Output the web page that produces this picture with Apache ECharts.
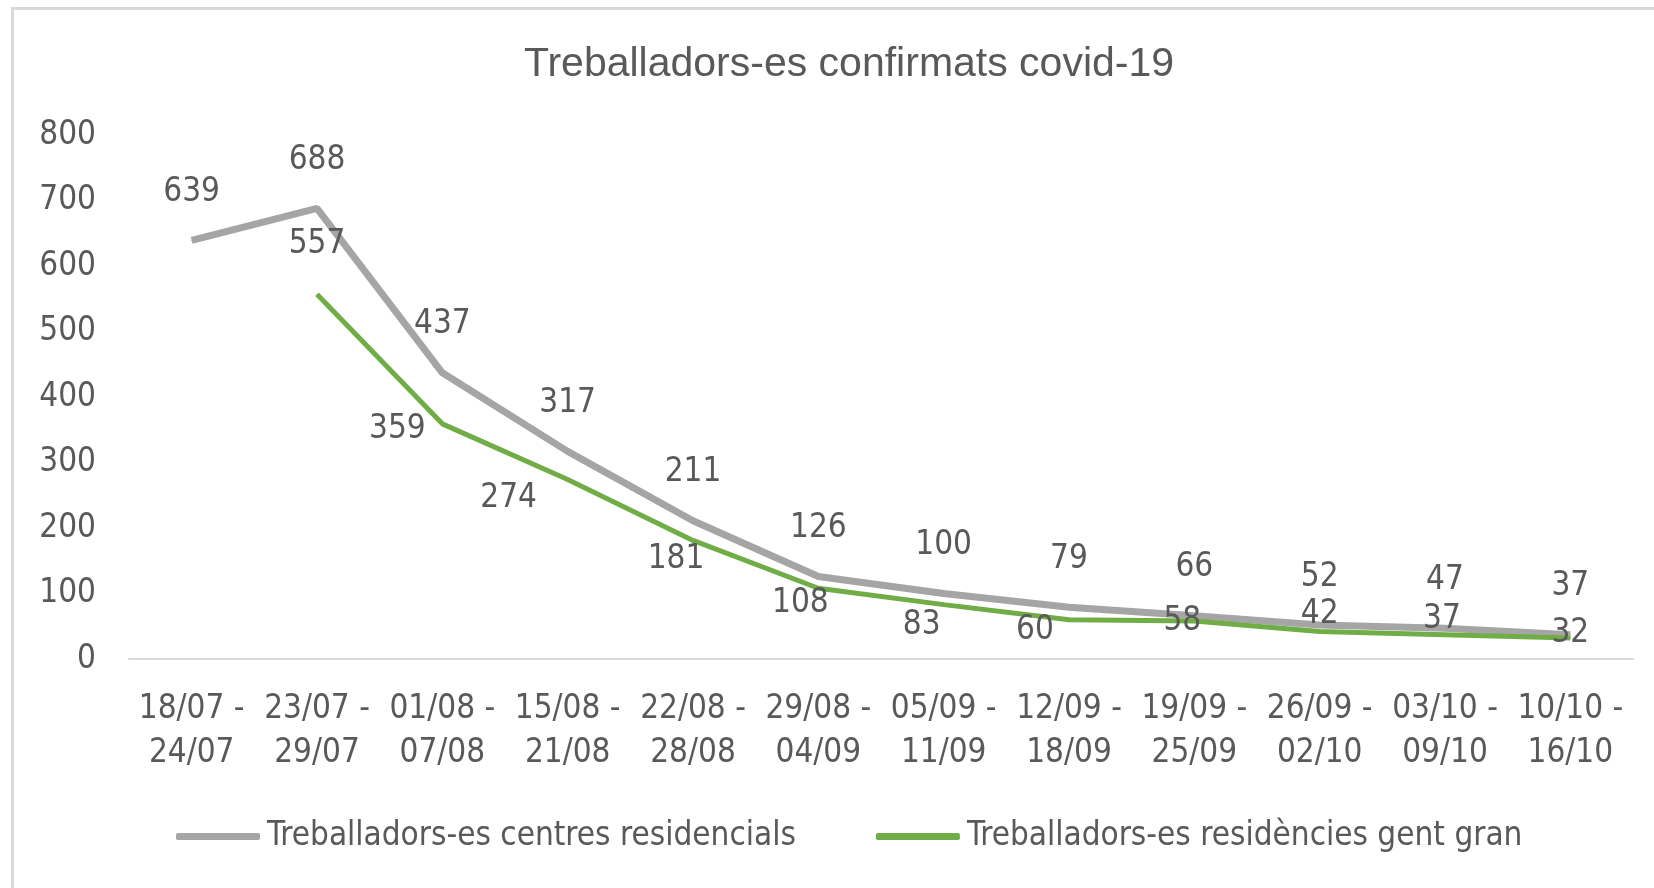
<!DOCTYPE html>
<html>
<head>
<meta charset="utf-8">
<script src="https://cdn.jsdelivr.net/npm/echarts@6/dist/echarts.min.js"></script>
<style>
  html, body { margin: 0; padding: 0; background: #fff; }
  #chart { width: 1654px; height: 888px; }
  #frame { position: absolute; left: 11px; top: 7px; width: 1700px; height: 1000px; border: 3px solid #d9d9d9; pointer-events: none; }
</style>
</head>
<body>
<div id="chart"></div>
<div id="frame"></div>
<script>
  // setmanes
  var weeks = ['18/07 -\n24/07', '23/07 -\n29/07', '01/08 -\n07/08', '15/08 -\n21/08', '22/08 -\n28/08', '29/08 -\n04/09',
    '05/09 -\n11/09', '12/09 -\n18/09', '19/09 -\n25/09', '26/09 -\n02/10', '03/10 -\n09/10', '10/10 -\n16/10']
  var centresResidencials = [639, 688, 437, 317, 211, 126, 100, 79, 66, 52, 47, 37]
  var gentGran = [null, 557, 359, 274, 181, 108, 83, 60, 58, 42, 37, 32]
  var yTicks = [0, 100, 200, 300, 400, 500, 600, 700, 800]

  // desplaçament de les etiquetes verdes (dx, dy)
  var greenOffsets = [[0, 0], [0, -50], [-45, 6], [-59, 19], [-17, 19], [-18, 15], [-22, 21], [-34, 11], [-12, 0], [0, -17], [-3, -15], [0, -5]]

  var font = '"DejaVu Sans Condensed", sans-serif'
  var txt = '#595959'

  var chart = echarts.init(document.getElementById('chart'))

  var greenData = gentGran.map(function (v, i) {
    return {
      value: v,
      label: { offset: greenOffsets[i] }
    }
  })

  var option = {
    animation: false,
    title: {
      text: 'Treballadors-es confirmats covid-19',
      left: 844,
      textAlign: 'center',
      top: 39,
      textStyle: { color: txt, fontSize: 41, fontWeight: 'normal', fontFamily: 'Liberation Sans, sans-serif' }
    },
    legend: {
      left: 171,
      top: 815,
      itemWidth: 84,
      itemHeight: 7,
      itemGap: 80,
      icon: 'roundRect',
      textStyle: { color: txt, fontSize: 33, fontFamily: font, padding: [0, 0, 0, 2] },
      data: ['Treballadors-es centres residencials', 'Treballadors-es residències gent gran']
    },
    grid: { left: 129, right: 21, top: 135, bottom: 229 },
    xAxis: {
      type: 'category',
      data: weeks,
      axisLine: { lineStyle: { color: '#d9d9d9', width: 2 } },
      axisTick: { show: false },
      axisLabel: { color: txt, fontSize: 33, fontFamily: font, lineHeight: 44, margin: 28, interval: 0 }
    },
    yAxis: {
      type: 'value',
      min: yTicks[0],
      max: yTicks[yTicks.length - 1],
      interval: 100,
      splitLine: { show: false },
      axisLine: { show: false },
      axisTick: { show: false },
      axisLabel: { color: txt, fontSize: 33, fontFamily: font, margin: 33, padding: [6, 0, 0, 0] }
    },
    series: [
      {
        name: 'Treballadors-es centres residencials',
        type: 'line',
        data: centresResidencials,
        symbol: 'circle',
        symbolSize: 1,
        color: '#a5a5a5',
        lineStyle: { width: 7, color: '#a5a5a5' },
        label: { show: true, position: 'top', distance: 31, color: txt, fontSize: 33, fontFamily: font }
      },
      {
        name: 'Treballadors-es residències gent gran',
        type: 'line',
        data: greenData,
        symbol: 'circle',
        symbolSize: 1,
        color: '#70ad47',
        lineStyle: { width: 5, color: '#70ad47' },
        label: { show: true, position: 'inside', color: txt, fontSize: 33, fontFamily: font }
      }
    ]
  }

  chart.setOption(option)
  window.addEventListener('resize', function () {
    chart.resize()
  })
</script>
</body>
</html>
